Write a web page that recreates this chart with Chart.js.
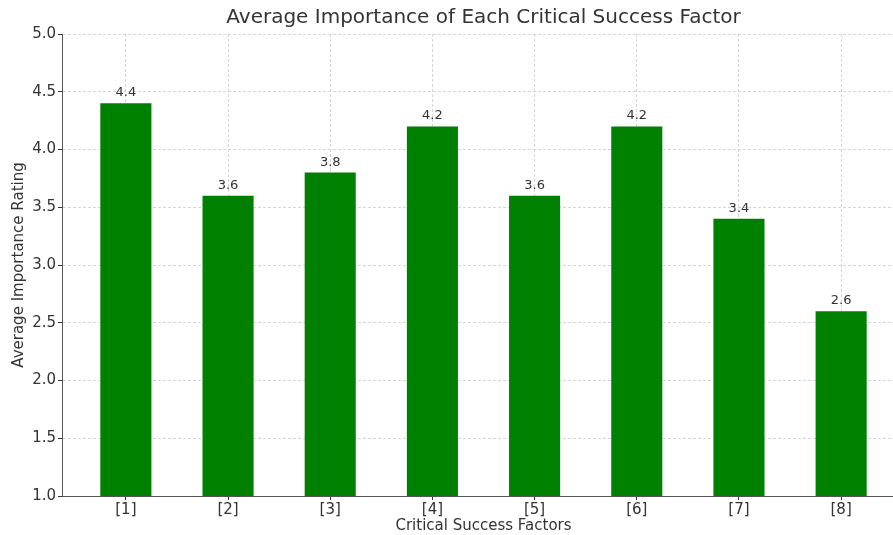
<!DOCTYPE html>
<html>
<head>
<meta charset="utf-8">
<script src="https://cdn.jsdelivr.net/npm/chart.js@4/dist/chart.umd.min.js"></script>
<style>
  html, body { margin: 0; padding: 0; background: #fff; overflow: hidden; }
  #wrap { position: relative; width: 905px; height: 535px; }
</style>
</head>
<body>
<div id="wrap"><canvas id="c"></canvas></div>
<script>
const categories = ["[1]", "[2]", "[3]", "[4]", "[5]", "[6]", "[7]", "[8]"];
const ratings = [4.4, 3.6, 3.8, 4.2, 3.6, 4.2, 3.4, 2.6];
const yTicks = [1.0, 1.5, 2.0, 2.5, 3.0, 3.5, 4.0, 4.5, 5.0];
const titleText = "Average Importance of Each Critical Success Factor";
const xTitle = "Critical Success Factors";
const yTitle = "Average Importance Rating";

const FONT = "'DejaVu Sans', sans-serif";
const TEXT = "#333333";

const valueLabels = {
  id: 'valueLabels',
  afterDatasetsDraw(chart) {
    const ctx = chart.ctx;
    const meta = chart.getDatasetMeta(0);
    ctx.save();
    ctx.font = "13px " + FONT;
    ctx.fillStyle = TEXT;
    ctx.textAlign = 'center';
    ctx.textBaseline = 'alphabetic';
    meta.data.forEach((bar, i) => {
      ctx.fillText(ratings[i].toFixed(1), bar.x, bar.y - 7);
    });
    ctx.restore();
  }
};

const gridOpts = {
  color: '#cccccc',
  lineWidth: 0.8,
  drawTicks: true,
  tickLength: 4,
  tickColor: '#333',
  tickBorderDash: [],
  tickWidth: 1,
  offset: false
};

new Chart(document.getElementById('c'), {
  type: 'bar',
  data: {
    datasets: [{
      data: ratings.map((v, i) => ({ x: i, y: v })),
      backgroundColor: '#008000',
      borderWidth: 0,
      categoryPercentage: 1.0,
      barPercentage: 0.5
    }]
  },
  options: {
    responsive: true,
    maintainAspectRatio: false,
    animation: false,
    layout: { padding: { left: 0, right: 0, top: 0, bottom: 0 } },
    plugins: {
      legend: { display: false },
      tooltip: { enabled: false },
      title: {
        display: true,
        text: titleText,
        fullSize: false,
        color: TEXT,
        font: { family: FONT, size: 20, weight: 'normal' },
        padding: { top: 6, bottom: 4 }
      }
    },
    scales: {
      x: {
        type: 'linear',
        min: -0.625,
        max: 7.625,
        offset: false,
        z: 1,
        afterBuildTicks(axis) {
          axis.ticks = categories.map((c, i) => ({ value: i }));
        },
        afterFit(axis) { axis.height = 39; },
        ticks: {
          callback: (v) => categories[v] !== undefined ? categories[v] : '',
          color: TEXT,
          font: { family: FONT, size: 15 },
          padding: 1,
          maxRotation: 0,
          autoSkip: false
        },
        grid: gridOpts,
        border: { display: true, color: '#555', width: 1, dash: [3, 2] },
        title: {
          display: true,
          text: xTitle,
          color: TEXT,
          font: { family: FONT, size: 15 },
          padding: { top: 0, bottom: 0 }
        }
      },
      y: {
        type: 'linear',
        min: 1,
        max: 5,
        z: 1,
        afterBuildTicks(axis) {
          axis.ticks = yTicks.map(v => ({ value: v }));
        },
        afterFit(axis) { axis.width = 62; },
        ticks: {
          callback: (v) => Number(v).toFixed(1),
          color: TEXT,
          font: { family: FONT, size: 15 },
          padding: 2
        },
        grid: gridOpts,
        border: { display: true, color: '#555', width: 1, dash: [3, 2] },
        title: {
          display: true,
          text: yTitle,
          color: TEXT,
          font: { family: FONT, size: 15 },
          padding: { top: 10, bottom: 0 }
        }
      }
    }
  },
  plugins: [valueLabels]
});
</script>
</body>
</html>
